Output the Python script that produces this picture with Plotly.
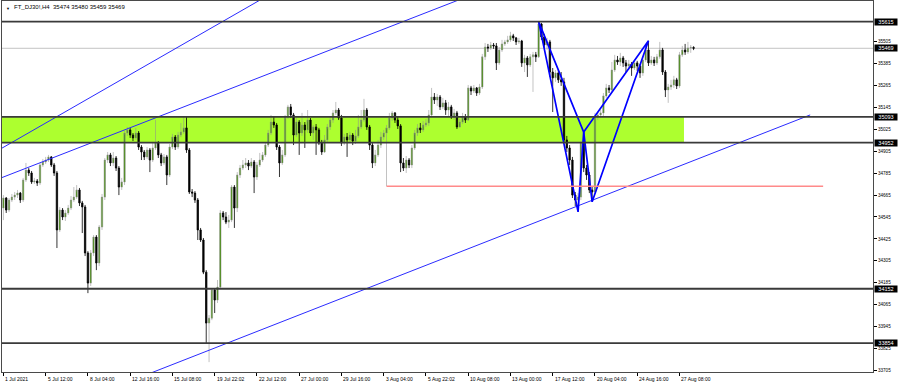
import plotly.graph_objects as go

# ---------------- data (H4 bars, index 0 = 1 Jul 2021 00:00) ----------------
opens = [
    34594, 34649, 34583, 34638, 34654, 34665, 34676, 34638, 34748, 34802,
    34786, 34737, 34742, 34731, 34830, 34846, 34857, 34874, 34830, 34786,
    34474, 34583, 34545, 34567, 34594, 34638, 34654, 34693, 34622, 34600,
    34348, 34183, 34348, 34435, 34293, 34490, 34654, 34857, 34885, 34841,
    34868, 34813, 34709, 34737, 35005, 35022, 34994, 34978, 35005, 34928,
    34901, 34874, 34912, 34857, 34923, 34950, 34885, 34841, 34874, 34775,
    34928, 34983, 34928, 34994, 35011, 35033, 34912, 34682, 34676, 34638,
    34474, 34419, 34243, 33964, 33991, 34145, 34090, 34161, 34567, 34545,
    34517, 34528, 34709, 34594, 34775, 34813, 34830, 34841, 34824, 34846,
    34764, 34830, 34857, 34885, 34939, 35005, 35065, 35049, 34928, 34841,
    34885, 35093, 35148, 35104, 34994, 35065, 35005, 35049, 35022, 35076,
    35005, 35038, 35022, 34950, 34901, 34967, 35038, 35076, 35115, 35131,
    35087, 34950, 34983, 34967, 34994, 34961, 34989, 35038, 35076, 35131,
    35038, 34939, 34841, 34885, 34939, 34983, 35005, 35033, 35087, 35115,
    35076, 35044, 34841, 34813, 34857, 34830, 34923, 35005, 35033, 35022,
    35049, 35060, 35104, 35202, 35186, 35202, 35148, 35170, 35131, 35148,
    35093, 35115, 35038, 35065, 35093, 35076, 35252, 35235, 35252, 35224,
    35257, 35422, 35476, 35471, 35487, 35482, 35389, 35460, 35493, 35504,
    35515, 35537, 35526, 35504, 35509, 35389, 35416, 35378, 35422, 35433,
    35422, 35602, 35531, 35487, 35504, 35339, 35307, 35334, 35296, 35285,
    34967, 34923, 34857, 34665, 34638, 34654, 34950, 34813, 34775, 34693,
    34682, 35093, 35104, 35115, 35208, 35252, 35241, 35350, 35405, 35394,
    35416, 35389, 35372, 35383, 35361, 35389, 35372, 35334, 35405, 35460,
    35389, 35405, 35389, 35422, 35460, 35339, 35241, 35257, 35268, 35296,
    35263, 35433, 35460, 35449, 35471, 35474,
]
highs = [
    34665, 34654, 34649, 34671, 34682, 34693, 34682, 34759, 34841, 34813,
    34797, 34759, 34753, 34841, 34863, 34874, 34885, 34879, 34841, 34797,
    34600, 34594, 34583, 34611, 34660, 34709, 34720, 34704, 34633, 34611,
    34358, 34364, 34446, 34446, 34501, 34671, 34868, 34901, 34896, 34901,
    34879, 34824, 34759, 35016, 35038, 35033, 35005, 35033, 35016, 34939,
    34912, 34928, 34923, 34956, 35076, 34961, 34896, 34890, 34885, 34945,
    35000, 34994, 35011, 35060, 35093, 35093, 34923, 34698, 34687, 34649,
    34485, 34430, 34254, 34008, 34156, 34156, 34200, 34583, 34578, 34572,
    34556, 34720, 34720, 34791, 34830, 34857, 34868, 34857, 34868, 34857,
    34846, 34896, 34901, 34956, 35022, 35104, 35093, 35060, 34939, 34912,
    35104, 35159, 35164, 35115, 35087, 35076, 35115, 35065, 35131, 35087,
    35049, 35054, 35033, 34967, 34994, 35054, 35093, 35131, 35175, 35142,
    35104, 35000, 35005, 35011, 35005, 35022, 35104, 35131, 35192, 35142,
    35049, 34950, 34912, 34967, 35011, 35022, 35049, 35115, 35126, 35120,
    35093, 35054, 34868, 34879, 34868, 34939, 35022, 35054, 35060, 35071,
    35082, 35131, 35252, 35224, 35219, 35213, 35197, 35186, 35175, 35159,
    35137, 35126, 35082, 35115, 35109, 35268, 35263, 35268, 35257, 35274,
    35438, 35498, 35493, 35504, 35498, 35498, 35476, 35515, 35515, 35537,
    35559, 35548, 35531, 35526, 35515, 35433, 35427, 35438, 35449, 35449,
    35615, 35608, 35548, 35526, 35515, 35361, 35350, 35350, 35339, 35307,
    34989, 34939, 34874, 34682, 34676, 34961, 35010, 34830, 34791, 34715,
    35115, 35120, 35131, 35224, 35274, 35268, 35394, 35433, 35427, 35444,
    35427, 35405, 35405, 35394, 35405, 35400, 35383, 35422, 35482, 35510,
    35427, 35422, 35438, 35504, 35471, 35350, 35274, 35296, 35318, 35307,
    35449, 35482, 35493, 35504, 35487, 35480,
]
lows = [
    34528, 34567, 34572, 34627, 34638, 34649, 34622, 34627, 34737, 34770,
    34726, 34726, 34715, 34720, 34819, 34835, 34846, 34819, 34770, 34375,
    34463, 34528, 34523, 34556, 34583, 34627, 34644, 34605, 34457, 34331,
    34128, 34167, 34331, 34254, 34276, 34474, 34638, 34841, 34824, 34824,
    34797, 34665, 34693, 34720, 34989, 34978, 34961, 34967, 34912, 34857,
    34857, 34863, 34791, 34846, 34912, 34868, 34824, 34830, 34720, 34764,
    34917, 34912, 34917, 34983, 35000, 34896, 34671, 34654, 34622, 34419,
    34408, 34232, 33854, 33750, 33980, 34019, 34074, 34150, 34528, 34506,
    34485, 34517, 34485, 34572, 34759, 34802, 34813, 34802, 34813, 34676,
    34748, 34819, 34846, 34874, 34928, 34994, 35033, 34912, 34764, 34830,
    34874, 35082, 35087, 34939, 34983, 34885, 34989, 34923, 35005, 34989,
    34967, 34885, 34939, 34885, 34896, 34956, 35022, 35060, 35104, 35076,
    34934, 34939, 34874, 34950, 34939, 34945, 34978, 35027, 35065, 35022,
    34912, 34813, 34824, 34874, 34923, 34967, 34714, 35022, 35071, 35060,
    35027, 34791, 34797, 34786, 34813, 34813, 34912, 34989, 35005, 35011,
    35038, 35044, 35093, 35164, 35153, 35131, 35137, 35104, 35093, 35082,
    35076, 35027, 35033, 35054, 35060, 35071, 35213, 35224, 35208, 35213,
    35246, 35405, 35449, 35460, 35466, 35350, 35378, 35449, 35482, 35493,
    35504, 35509, 35487, 35493, 35367, 35339, 35312, 35367, 35230, 35394,
    35416, 35515, 35471, 35460, 35312, 35120, 35285, 35279, 35263, 34950,
    34901, 34830, 34649, 34605, 34573, 34638, 34791, 34748, 34676, 34628,
    34671, 35076, 35087, 35098, 35197, 35224, 35230, 35339, 35378, 35372,
    35367, 35339, 35350, 35318, 35350, 35345, 35307, 35318, 35394, 35372,
    35378, 35372, 35378, 35411, 35323, 35202, 35170, 35241, 35252, 35246,
    35252, 35422, 35433, 35438, 35444, 35459,
]
closes = [
    34649, 34583, 34638, 34654, 34665, 34676, 34638, 34748, 34802, 34786,
    34737, 34742, 34731, 34830, 34846, 34857, 34874, 34830, 34786, 34474,
    34583, 34545, 34567, 34594, 34638, 34654, 34693, 34622, 34600, 34348,
    34183, 34348, 34435, 34293, 34490, 34654, 34857, 34885, 34841, 34868,
    34813, 34709, 34737, 35005, 35022, 34994, 34978, 35005, 34928, 34901,
    34874, 34912, 34857, 34923, 34950, 34885, 34841, 34874, 34775, 34928,
    34983, 34928, 34994, 35011, 35033, 34912, 34682, 34676, 34638, 34474,
    34419, 34243, 33964, 33991, 34145, 34090, 34161, 34567, 34545, 34517,
    34528, 34709, 34594, 34775, 34813, 34830, 34841, 34824, 34846, 34764,
    34830, 34857, 34885, 34939, 35005, 35065, 35049, 34928, 34841, 34885,
    35093, 35148, 35104, 34994, 35065, 35005, 35049, 35022, 35076, 35005,
    35038, 35022, 34950, 34901, 34967, 35038, 35076, 35115, 35131, 35087,
    34950, 34983, 34967, 34994, 34961, 34989, 35038, 35076, 35131, 35038,
    34939, 34841, 34885, 34939, 34983, 35005, 35033, 35087, 35115, 35076,
    35044, 34841, 34813, 34857, 34830, 34923, 35005, 35033, 35022, 35049,
    35060, 35104, 35202, 35186, 35202, 35148, 35170, 35131, 35148, 35093,
    35115, 35038, 35065, 35093, 35076, 35252, 35235, 35252, 35224, 35257,
    35422, 35476, 35471, 35487, 35482, 35389, 35460, 35493, 35504, 35515,
    35537, 35526, 35504, 35509, 35389, 35416, 35378, 35422, 35433, 35422,
    35602, 35531, 35487, 35504, 35339, 35307, 35334, 35296, 35285, 34967,
    34923, 34857, 34665, 34638, 34654, 34950, 34813, 34775, 34693, 34682,
    35093, 35104, 35115, 35208, 35252, 35241, 35350, 35405, 35394, 35416,
    35389, 35372, 35383, 35361, 35389, 35372, 35334, 35405, 35460, 35389,
    35405, 35389, 35422, 35460, 35339, 35241, 35257, 35268, 35296, 35263,
    35433, 35460, 35449, 35471, 35474, 35469,
]

# time axis labels (bar index -> label)
tick_bars = [0, 15, 30, 45, 60, 75, 90, 105, 120, 135, 150, 165, 180, 195, 210, 225, 240]
tick_labels = ["1 Jul 2021", "5 Jul 12:00", "8 Jul 04:00", "12 Jul 16:00", "15 Jul 08:00",
               "19 Jul 22:02", "22 Jul 12:00", "27 Jul 00:00", "29 Jul 16:00", "3 Aug 04:00",
               "5 Aug 22:02", "10 Aug 08:00", "13 Aug 00:00", "17 Aug 12:00", "20 Aug 04:00",
               "24 Aug 16:00", "27 Aug 08:00"]

# price axis
price_ticks = [33705, 33825, 33945, 34065, 34185, 34305, 34425, 34545, 34665, 34785,
               34905, 35025, 35145, 35265, 35385, 35505]
y_range = [33696, 35728]
x_range = [-0.5, 308.7]

# horizontal levels
levels = [35615, 35093, 34952, 34152, 33854]
current_price = 35469
zone = [34952, 35093]
zone_end_bar = 241.6

# red support line
red_line_bars = [136, 291]
red_line_price = 34714

# trend / channel lines (bar, price anchors)
ch1_bars, ch1_prices = [-2, 100], [34909, 35812]
ch2_bars, ch2_prices = [-2, 170], [34752, 35784]
ch3_bars, ch3_prices = [40, 286.4], [33616, 35104]

# harmonic pattern points X, A, B, C, D
pat_bars = [190, 204, 206, 209, 229]
pat_prices = [35615, 34573, 35010, 34628, 35510]

title_text = "FT_DJ30!,H4\u00a0\u00a035474 35480 35459 35469"

FONT = "Liberation Sans, Arial, sans-serif"

# ---------------- figure ----------------
bars = list(range(len(closes)))
fig = go.Figure()

fig.add_trace(go.Candlestick(
    x=bars, open=opens, high=highs, low=lows, close=closes,
    increasing=dict(line=dict(color="#8f8f8f", width=0.55), fillcolor="#3f9000"),
    decreasing=dict(line=dict(color="#000000", width=0.8), fillcolor="#000000"),
    whiskerwidth=0, showlegend=False, hoverinfo="skip",
))

for bx, py in [(ch1_bars, ch1_prices), (ch2_bars, ch2_prices), (ch3_bars, ch3_prices)]:
    fig.add_trace(go.Scatter(x=bx, y=py, mode="lines",
                             line=dict(color="#2b2bff", width=1),
                             showlegend=False, hoverinfo="skip"))

X, A, B, C, D = list(zip(pat_bars, pat_prices))
for tri in [(X, A, B, X), (B, C, D, B)]:
    fig.add_trace(go.Scatter(x=[p[0] for p in tri], y=[p[1] for p in tri], mode="lines",
                             line=dict(color="#0000ff", width=1.7),
                             showlegend=False, hoverinfo="skip"))

shapes = []
shapes.append(dict(type="rect", xref="x", yref="y", x0=x_range[0] - 5, x1=zone_end_bar,
                   y0=zone[0], y1=zone[1], fillcolor="#adff2f", line=dict(width=0),
                   layer="below"))
shapes.append(dict(type="line", xref="paper", yref="y", x0=0, x1=1,
                   y0=current_price, y1=current_price,
                   line=dict(color="#c4c4c4", width=1), layer="below"))
for lv in levels:
    shapes.append(dict(type="line", xref="paper", yref="y", x0=0, x1=1, y0=lv, y1=lv,
                       line=dict(color="#3a3a3a", width=1.8), layer="above"))
shapes.append(dict(type="line", xref="x", yref="y", x0=red_line_bars[0], x1=red_line_bars[1],
                   y0=red_line_price, y1=red_line_price,
                   line=dict(color="#ff8a8a", width=1.5), layer="above"))

annotations = []
for b, t in zip(tick_bars, tick_labels):
    annotations.append(dict(x=b, xref="x", y=0, yref="paper", text=t, showarrow=False,
                            xanchor="left", yanchor="top", yshift=-2, xshift=0,
                            font=dict(family=FONT, size=5, color="#000000")))
for lv in levels + [current_price]:
    annotations.append(dict(x=1, xref="paper", y=lv, yref="y", text=str(lv), showarrow=False,
                            xanchor="left", yanchor="middle", xshift=1,
                            width=22, height=6, borderpad=0, bgcolor="#000000",
                            font=dict(family=FONT, size=5.5, color="#ffffff")))
annotations.append(dict(x=0, xref="paper", y=1, yref="paper", text="\u25bc", showarrow=False,
                        xanchor="left", yanchor="top", xshift=2, yshift=-3,
                        font=dict(family=FONT, size=4, color="#000000")))
annotations.append(dict(x=0, xref="paper", y=1, yref="paper", text=title_text, showarrow=False,
                        xanchor="left", yanchor="top", xshift=10, yshift=-1,
                        font=dict(family=FONT, size=6, color="#000000")))

fig.update_layout(
    width=900, height=386,
    margin=dict(l=2, r=27, t=1, b=14, pad=0),
    paper_bgcolor="#ffffff", plot_bgcolor="#ffffff",
    shapes=shapes, annotations=annotations,
    showlegend=False,
    xaxis=dict(range=x_range, tickvals=tick_bars, ticks="outside", ticklen=3,
               tickcolor="#000000", showticklabels=False, showgrid=False, zeroline=False,
               showline=True, linecolor="#4a4a4a", linewidth=1, mirror=True,
               rangeslider=dict(visible=False), fixedrange=True),
    yaxis=dict(range=y_range, side="right", tickvals=price_ticks,
               ticktext=[str(v) for v in price_ticks], ticks="outside", ticklen=3,
               tickcolor="#000000", tickfont=dict(family=FONT, size=4.6, color="#000000"),
               showgrid=False, zeroline=False, showline=True, linecolor="#4a4a4a",
               linewidth=1, mirror=True, fixedrange=True),
)

fig.write_html("out.html")
